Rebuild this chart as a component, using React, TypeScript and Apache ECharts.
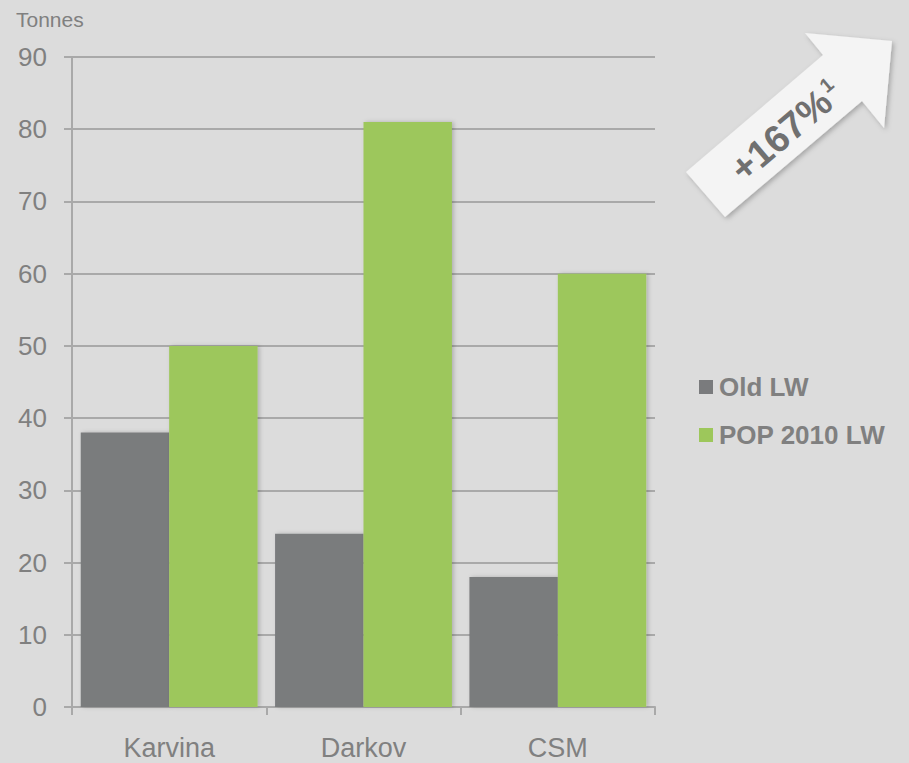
import React, { useEffect, useRef } from "react";
import * as echarts from "echarts";

const categories = ["Karvina", "Darkov", "CSM"];
const oldLW = [38, 24, 18];
const pop2010LW = [50, 81, 60];
const seriesNames = ["Old LW", "POP 2010 LW"];
const yMin = 0;
const yMax = 90;
const yInterval = 10;
const unitLabel = "Tonnes";
const growthLabel = "+167%";
const growthNote = "1";

export default function App() {
  const ref = useRef<HTMLDivElement>(null);
  useEffect(() => {
    const chart = echarts.init(ref.current!, null, { renderer: "svg" });
    const font = "'Liberation Sans', Arial, Helvetica, sans-serif";
    const textColor = "#808080";
    const lineColor = "#a9a9a9";
    chart.setOption({
      animation: false,
      backgroundColor: "#dcdcdc",
      grid: { left: 72, top: 57, right: 254, bottom: 56 },
      legend: {
        orient: "vertical",
        left: 699,
        top: 374,
        padding: 0,
        itemWidth: 14,
        itemHeight: 14,
        itemGap: 22,
        itemStyle: { borderWidth: 0 },
        icon: "rect",
        data: seriesNames,
        textStyle: { fontSize: 26, fontWeight: "bold", color: textColor, fontFamily: font, padding: [0, 0, 0, 1] },
      },
      xAxis: {
        type: "category",
        data: categories,
        axisLine: { lineStyle: { color: lineColor, width: 2 } },
        axisTick: { show: true, length: 8, lineStyle: { color: lineColor, width: 2 } },
        axisLabel: { fontSize: 27, color: textColor, fontFamily: font, margin: 27 },
      },
      yAxis: {
        type: "value",
        min: yMin,
        max: yMax,
        interval: yInterval,
        axisLine: { show: true, lineStyle: { color: lineColor, width: 2 } },
        axisTick: { show: true, length: 8, lineStyle: { color: lineColor, width: 2 } },
        splitLine: { show: true, lineStyle: { color: lineColor, width: 2 } },
        axisLabel: { fontSize: 26, color: textColor, fontFamily: font, margin: 25 },
      },
      series: [
        {
          name: seriesNames[0],
          type: "bar",
          data: oldLW,
          barGap: "0%",
          barCategoryGap: "9%",
          itemStyle: {
            color: "#7a7b7d",
            shadowBlur: 4,
            shadowOffsetX: 2,
            shadowColor: "rgba(0,0,0,0.2)",
          },
        },
        {
          name: seriesNames[1],
          type: "bar",
          data: pop2010LW,
          barGap: "0%",
          barCategoryGap: "9%",
          itemStyle: {
            color: "#9dc75b",
            shadowBlur: 4,
            shadowOffsetX: 2,
            shadowColor: "rgba(0,0,0,0.2)",
          },
        },
      ],
      graphic: [
        {
          type: "text",
          left: 16,
          top: 9,
          style: { text: unitLabel, fontSize: 21, fill: textColor, fontFamily: font },
        },
        {
          type: "polygon",
          shape: {
            points: [
              [686, 172],
              [823, 55],
              [805, 33],
              [892, 41],
              [884, 128],
              [862, 101],
              [725, 217],
            ],
          },
          style: {
            fill: "#f4f4f4",
            shadowBlur: 5,
            shadowOffsetX: 2,
            shadowOffsetY: 2,
            shadowColor: "rgba(0,0,0,0.25)",
          },
        },
        {
          type: "text",
          x: 786,
          y: 131,
          rotation: (40.4 * Math.PI) / 180,
          style: {
            text: "{a|" + growthLabel + "}{b|" + growthNote + "}",
            align: "center",
            verticalAlign: "middle",
            fill: "#707070",
            fontFamily: font,
            fontWeight: "bold",
            rich: {
              a: { fontSize: 38, fontWeight: "bold", fill: "#707070", fontFamily: font },
              b: { fontSize: 20, fontWeight: "bold", fill: "#707070", fontFamily: font, verticalAlign: "top", padding: [0, 0, 0, 2] },
            },
          },
        },
      ],
    });
    return () => chart.dispose();
  }, []);
  return (
    <div
      ref={ref}
      style={{ position: "fixed", left: 0, top: 0, width: 909, height: 763 }}
    />
  );
}
